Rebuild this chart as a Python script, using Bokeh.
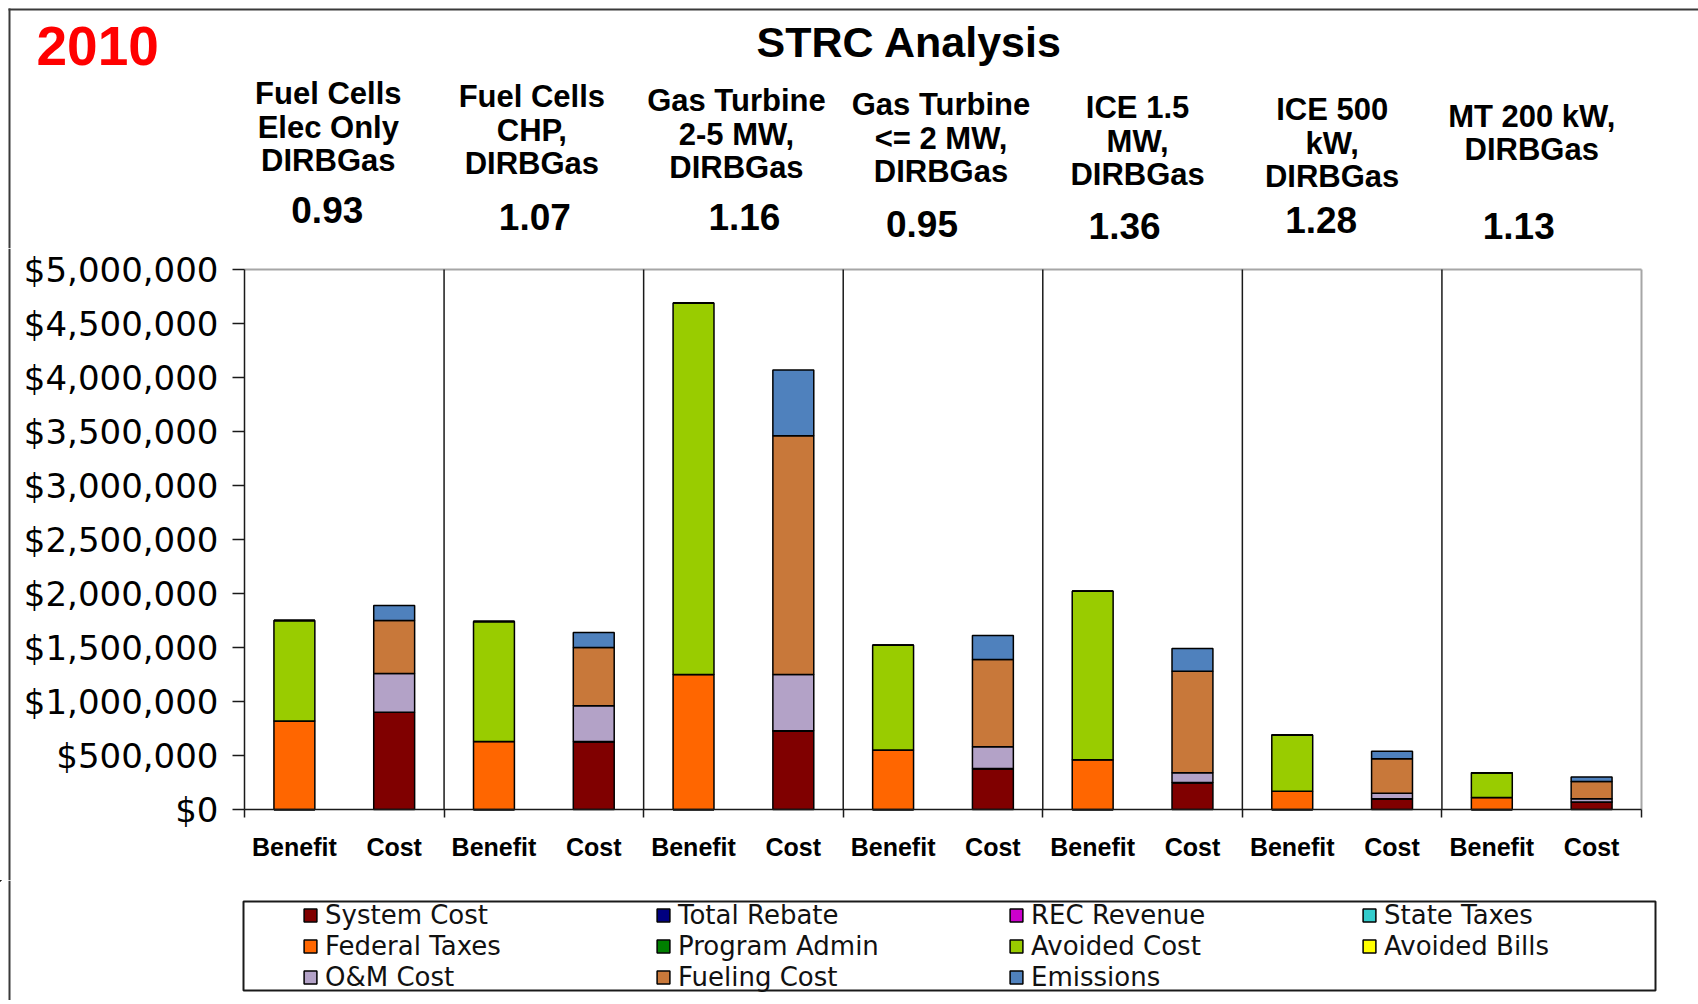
from bokeh.plotting import figure
from bokeh.layouts import column
from bokeh.models import (Range1d, FixedTicker, NumeralTickFormatter,
                          ColumnDataSource, Legend, LegendItem)
from bokeh.core.properties import value
from bokeh.embed import file_html
from bokeh.resources import INLINE

# ---------------- data ----------------
groups = ["Fuel Cells\nElec Only\nDIRBGas",
          "Fuel Cells\nCHP,\nDIRBGas",
          "Gas Turbine\n2-5 MW,\nDIRBGas",
          "Gas Turbine\n<= 2 MW,\nDIRBGas",
          "ICE 1.5\nMW,\nDIRBGas",
          "ICE 500\nkW,\nDIRBGas",
          "MT 200 kW,\nDIRBGas"]
ratios = ["0.93", "1.07", "1.16", "0.95", "1.36", "1.28", "1.13"]
bar_kinds = ["Benefit", "Cost"]

series = ["System Cost", "Total Rebate", "REC Revenue", "State Taxes",
          "Federal Taxes", "Program Admin", "Avoided Cost", "Avoided Bills",
          "O&M Cost", "Fueling Cost", "Emissions"]
colors = ["#800000", "#000080", "#CC00CC", "#33CCCC",
          "#FF6600", "#008000", "#99CC00", "#FFFF00",
          "#B3A2C7", "#C8783A", "#4F81BD"]

# Benefit bars
federal_taxes = [820000, 630000, 1250000, 550000, 460000, 170000, 110000]
avoided_cost = [930000, 1110000, 3440000, 970000, 1560000, 520000, 230000]
# Cost bars
system_cost = [900000, 630000, 730000, 380000, 250000, 100000, 70000]
om_cost = [360000, 330000, 520000, 200000, 90000, 50000, 30000]
fueling_cost = [490000, 540000, 2210000, 810000, 940000, 320000, 160000]
emissions = [140000, 140000, 610000, 220000, 210000, 70000, 40000]

y_ticks = [0, 500000, 1000000, 1500000, 2000000, 2500000,
           3000000, 3500000, 4000000, 4500000, 5000000]
y_max = 5000000

title_text = "STRC Analysis"
year_text = "2010"

# ---------------- layout constants (page pixels) ----------------
W, HTOT = 1698, 1000
H_HEAD, H_MAIN = 248, 632
H_LEG = HTOT - H_HEAD - H_MAIN
FRAME_L, FRAME_R = 244, 1641  # page x of plot area
FRAME_T, FRAME_B = 269, 809   # page y of plot area
FONT = "Liberation Sans"
EDGE = "#3a3a3a"
BX = 9                        # page x of the outer chart border


def no_align(fig):
    try:
        fig.frame_align = False
    except Exception:
        pass


def blank(fig):
    fig.axis.visible = False
    fig.grid.visible = False
    fig.outline_line_color = None
    no_align(fig)


benefit_vals = {"Federal Taxes": federal_taxes, "Avoided Cost": avoided_cost}
cost_vals = {"System Cost": system_cost, "O&M Cost": om_cost,
             "Fueling Cost": fueling_cost, "Emissions": emissions}

keys = ["s%d" % i for i in range(len(series))]
data = {"x": []}
for k in keys:
    data[k] = []
labels = {}
idx = 0
for g in range(len(groups)):
    for kind in bar_kinds:
        data["x"].append(idx + 0.5)
        labels[idx + 0.5] = kind
        src_vals = benefit_vals if kind == "Benefit" else cost_vals
        for s, k in zip(series, keys):
            data[k].append(src_vals[s][g] if s in src_vals else 0)
        idx += 1
src = ColumnDataSource(data)
nbars = idx

# ---------------- main chart ----------------
# the frame fills the whole canvas; the axes are pinned with fixed_location
kx = (FRAME_R - FRAME_L) / nbars
ky = (FRAME_B - FRAME_T) / y_max
x0r = -FRAME_L / kx
x1r = nbars + (W - FRAME_R) / kx
y1r = y_max + (FRAME_T - H_HEAD) / ky
y0r = -(H_HEAD + H_MAIN - FRAME_B) / ky

p = figure(width=W, height=H_MAIN, output_backend="svg",
           toolbar_location=None, x_range=Range1d(x0r, x1r),
           y_range=Range1d(y0r, y1r), min_border=0)
no_align(p)
p.background_fill_color = "white"
p.border_fill_color = "white"
p.outline_line_color = None
p.grid.visible = False

# outer chart border (left edge)
p.segment(x0=[x0r + BX / kx], y0=[y0r], x1=[x0r + BX / kx], y1=[y1r],
          line_color=EDGE, line_width=2)
# plot-area outline (top and right, grey) and group separators
p.segment(x0=[0, nbars], y0=[y_max, 0], x1=[nbars, nbars], y1=[y_max, y_max],
          line_color="#A6A6A6", line_width=2)
seps = [2 * i for i in range(1, len(groups))]
p.segment(x0=seps, y0=[0] * len(seps), x1=seps, y1=[y_max] * len(seps),
          line_color="#1a1a1a", line_width=1.5)

bars = p.vbar_stack(keys, x="x", width=0.41, source=src, fill_color=colors,
                    line_color="black", line_width=1.5)

xa = p.xaxis[0]
xa.fixed_location = 0
xa.bounds = (0, nbars)
xa.ticker = FixedTicker(ticks=sorted(labels.keys()),
                        minor_ticks=[2 * i for i in range(len(groups) + 1)])
xa.major_label_overrides = labels
xa.major_tick_out = 0
xa.major_tick_in = 0
xa.minor_tick_out = 8
xa.minor_tick_in = 0
xa.minor_tick_line_color = "#1a1a1a"
xa.minor_tick_line_width = 1.5
xa.axis_line_color = "#1a1a1a"
xa.axis_line_width = 1.5
xa.major_label_standoff = 15
xa.major_label_text_font = FONT
xa.major_label_text_font_style = "bold"
xa.major_label_text_font_size = "25px"
xa.major_label_text_color = "black"

ya = p.yaxis[0]
ya.fixed_location = 0
ya.bounds = (0, y_max)
ya.ticker = FixedTicker(ticks=y_ticks)
ya.formatter = NumeralTickFormatter(format="$0,0")
ya.major_tick_out = 12
ya.major_tick_in = 0
ya.minor_tick_out = 0
ya.minor_tick_in = 0
ya.major_tick_line_color = "#1a1a1a"
ya.major_tick_line_width = 1.5
ya.axis_line_color = "#1a1a1a"
ya.axis_line_width = 1.5
ya.major_label_standoff = 14
ya.major_label_text_font = "DejaVu Sans"
ya.major_label_text_font_size = "34px"
ya.major_label_text_color = "black"

# ---------------- header (title, group names, ratios) ----------------
h = figure(width=W, height=H_HEAD, output_backend="svg", toolbar_location=None,
           x_range=Range1d(0, W), y_range=Range1d(H_HEAD, 0), min_border=0)
blank(h)
h.segment(x0=[BX - 1, BX], y0=[9, 8], x1=[W, BX], y1=[9, H_HEAD],
          line_color=EDGE, line_width=2)

h.text(x=[36], y=[45], text=[year_text], text_font=value(FONT),
       text_font_style="bold", text_font_size="55px", text_color="#FF0000",
       text_align="left", text_baseline="middle")
h.text(x=[909], y=[41], text=[title_text], text_font=value(FONT),
       text_font_style="bold", text_font_size="43px", text_color="black",
       text_align="center", text_baseline="middle")

LINE = 33.6
head_top = [93, 96, 100, 104, 107, 109, 116]
head_dx = [-16, -12, -7, -2, -5, -10, -10]
val_y = [209, 216, 216, 223, 225, 219, 225]
val_dx = [-17, -9, 1, -21, -18, -21, -23]
gw = (FRAME_R - FRAME_L) / len(groups)
hx, hy, vx, vy = [], [], [], []
for g, name in enumerate(groups):
    n = name.count("\n") + 1
    gc = FRAME_L + gw * (g + 0.5)
    hx.append(gc + head_dx[g])
    hy.append(head_top[g] + (n - 1) * LINE / 2)
    vx.append(gc + val_dx[g])
    vy.append(val_y[g])
h.text(x=hx, y=hy, text=groups, text_font=value(FONT), text_font_style="bold",
       text_font_size="31px", text_line_height=0.95, text_color="black",
       text_align="center", text_baseline="middle")
h.text(x=vx, y=vy, text=ratios, text_font=value(FONT), text_font_style="bold",
       text_font_size="37px", text_color="black", text_align="center",
       text_baseline="middle")

# ---------------- legend panel ----------------
lg = figure(width=W, height=H_LEG, output_backend="svg", toolbar_location=None,
            x_range=Range1d(0, W), y_range=Range1d(H_LEG, 0), min_border=0)
blank(lg)
Y0 = H_HEAD + H_MAIN
lg.quad(left=[BX - 1], right=[BX + 1], top=[0], bottom=[H_LEG],
        fill_color=EDGE, line_color=None)
lg.quad(left=[243], right=[1655], top=[901 - Y0], bottom=[990 - Y0],
        fill_color=None, line_color="#1a1a1a", line_width=2)

NCOL = 4
ROW_H = 31
row_centers = [915, 946, 977]          # page y of each legend row
GLYPH = 16                              # legend swatch draws with 10% inset
all_items = []
for s, c in zip(series, colors):
    # off-canvas proxy renderer, only used to draw the legend swatch
    r = lg.vbar(x=[-500], top=[-500], bottom=[-510], width=1, fill_color=c,
                line_color="black", line_width=1.5)
    all_items.append(LegendItem(label=s, renderers=[r]))
for ri in range(len(row_centers)):
    its = all_items[ri * NCOL:(ri + 1) * NCOL]
    if not its:
        continue
    leg = Legend(items=its, orientation="horizontal", padding=0,
                 margin=0, spacing=0, border_line_alpha=0,
                 background_fill_alpha=0, glyph_width=GLYPH,
                 glyph_height=GLYPH, label_standoff=7, label_width=330,
                 label_height=ROW_H, label_text_font="DejaVu Sans",
                 label_text_font_size="26px", label_text_color="#111111")
    leg.location = (302, H_LEG - (row_centers[ri] - Y0 + ROW_H / 2))
    lg.add_layout(leg, "center")

layout = column(h, p, lg, spacing=0)
open("out.html", "w").write(file_html(layout, INLINE))
